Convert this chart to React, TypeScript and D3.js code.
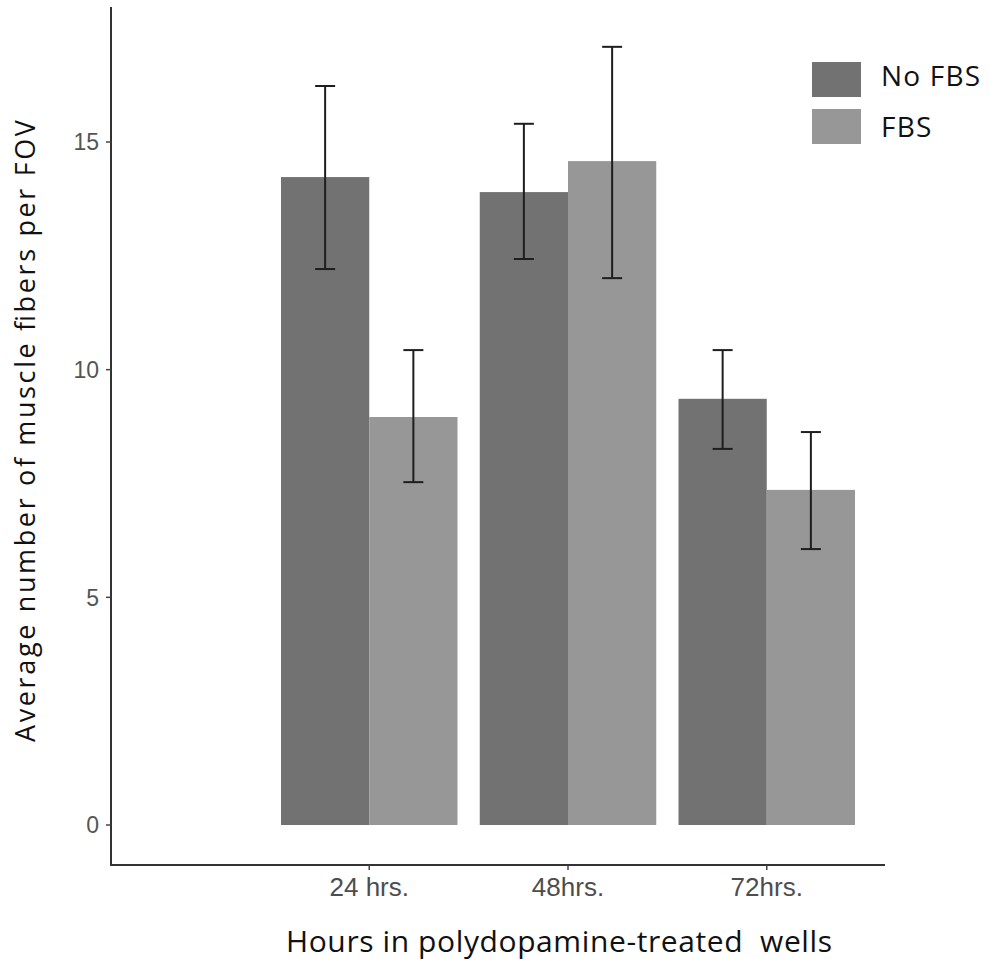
import React from "react";
import * as d3 from "d3";

const categories = ["24 hrs.", "48hrs.", "72hrs."];
const seriesNames = ["No FBS", "FBS"];
const noFbsMean = [14.23, 13.9, 9.36];
const noFbsLow = [12.21, 12.43, 8.26];
const noFbsHigh = [16.23, 15.4, 10.43];
const fbsMean = [8.96, 14.58, 7.36];
const fbsLow = [7.53, 12.01, 6.06];
const fbsHigh = [10.43, 17.09, 8.63];
const yTicks = [0, 5, 10, 15];
const xTitle = "Hours in polydopamine-treated  wells";
const yTitle = "Average number of muscle fibers per FOV";

const colors = ["#727272", "#979797"];

export default function App() {
  const W = 990;
  const H = 961;
  const y = d3.scaleLinear().domain([0, 15]).range([825, 142]);
  const x = d3
    .scaleBand<string>()
    .domain(categories)
    .range([281, 855])
    .paddingInner(0.112)
    .paddingOuter(0);
  const xs = d3.scaleBand<string>().domain(seriesNames).range([0, x.bandwidth()]);

  const series = [
    { name: seriesNames[0], mean: noFbsMean, low: noFbsLow, high: noFbsHigh },
    { name: seriesNames[1], mean: fbsMean, low: fbsLow, high: fbsHigh },
  ];

  const axisLeft = 111;
  const axisTop = 7;
  const axisBottom = 865;
  const axisRight = 885;
  const cap = 10;
  const titleFont = "'Open Sans', 'Noto Sans', sans-serif";
  const tickFont = "'Liberation Sans', Arial, sans-serif";

  return (
    <svg
      width={W}
      height={H}
      style={{ position: "absolute", left: 0, top: 0, background: "#fff" }}
    >
      {/* bars */}
      {series.map((s, si) =>
        categories.map((c, ci) => {
          const x0 = (x(c) as number) + (xs(s.name) as number);
          return (
            <rect
              key={s.name + c}
              x={x0}
              y={y(s.mean[ci])}
              width={xs.bandwidth()}
              height={y(0) - y(s.mean[ci])}
              fill={colors[si]}
            />
          );
        })
      )}
      {/* error bars */}
      {series.map((s) =>
        categories.map((c, ci) => {
          const cx = (x(c) as number) + (xs(s.name) as number) + xs.bandwidth() / 2;
          const yl = y(s.low[ci]);
          const yh = y(s.high[ci]);
          return (
            <g key={"e" + s.name + c} stroke="#1e1e1e" strokeWidth={2}>
              <line x1={cx} x2={cx} y1={yh} y2={yl} />
              <line x1={cx - cap} x2={cx + cap} y1={yh} y2={yh} />
              <line x1={cx - cap} x2={cx + cap} y1={yl} y2={yl} />
            </g>
          );
        })
      )}
      {/* axes */}
      <line x1={axisLeft} x2={axisLeft} y1={axisTop} y2={axisBottom + 1} stroke="#333" strokeWidth={2} />
      <line x1={axisLeft} x2={axisRight} y1={axisBottom} y2={axisBottom} stroke="#333" strokeWidth={2} />
      {yTicks.map((t) => (
        <g key={"yt" + t}>
          <line x1={axisLeft - 5} x2={axisLeft} y1={y(t)} y2={y(t)} stroke="#444" strokeWidth={1.5} />
          <text
            x={axisLeft - 12}
            y={y(t)}
            dy="0.36em"
            textAnchor="end"
            fontFamily={tickFont}
            fontSize={23}
            fill="#555"
          >
            {t}
          </text>
        </g>
      ))}
      {categories.map((c) => {
        const cx = (x(c) as number) + x.bandwidth() / 2;
        return (
          <g key={"xt" + c}>
            <line x1={cx} x2={cx} y1={axisBottom} y2={axisBottom + 5} stroke="#444" strokeWidth={1.5} />
            <text
              x={cx}
              y={896}
              textAnchor="middle"
              fontFamily={tickFont}
              fontSize={26}
              fill="#4d4d4d"
            >
              {c}
            </text>
          </g>
        );
      })}
      {/* axis titles */}
      <text
        x={286}
        y={952}
        textLength={546}
        lengthAdjust="spacing"
        fontFamily={titleFont}
        fontSize={30}
        fill="#111"
        style={{ whiteSpace: "pre" }}
      >
        {xTitle}
      </text>
      <text
        transform={`translate(35, 742) rotate(-90)`}
        textLength={622}
        lengthAdjust="spacing"
        fontFamily={titleFont}
        fontSize={27}
        fill="#111"
      >
        {yTitle}
      </text>
      {/* legend */}
      {seriesNames.map((n, i) => (
        <g key={"lg" + n}>
          <rect x={812} y={62 + i * 47} width={49} height={35} fill={colors[i]} />
          <text
            x={881}
            y={86 + i * 51}
            fontFamily={titleFont}
            fontSize={28}
            letterSpacing={1.2}
            fill="#111"
          >
            {n}
          </text>
        </g>
      ))}
    </svg>
  );
}
